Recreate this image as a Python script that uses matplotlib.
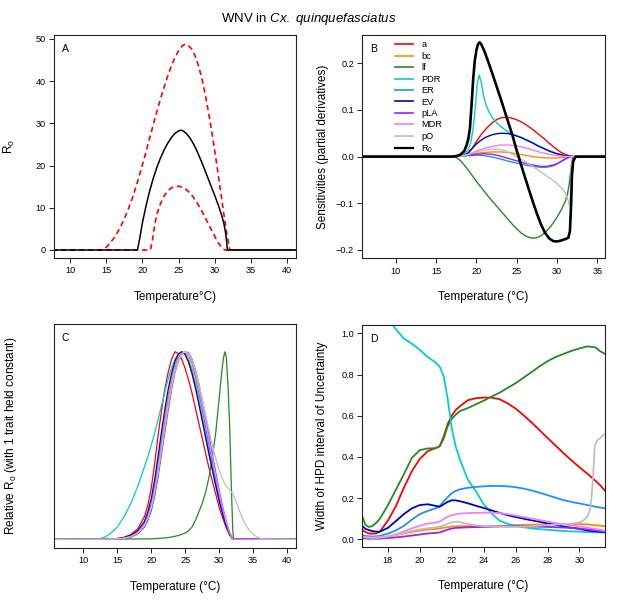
import matplotlib
matplotlib.use("Agg")
import matplotlib.pyplot as plt
from matplotlib.lines import Line2D

plt.rcParams['font.family'] = ['Liberation Sans', 'DejaVu Sans']
plt.rcParams['mathtext.fontset'] = 'custom'
plt.rcParams['mathtext.rm'] = 'Liberation Sans'
plt.rcParams['mathtext.it'] = 'Liberation Sans:italic'
plt.rcParams['mathtext.bf'] = 'Liberation Sans:bold'

# ---------------- Panel A: R0 with credible interval ----------------
A_med_T = [5, 19.3, 19.6, 20.0, 20.5, 21.0, 21.5, 22.0, 22.5, 23.0, 23.5, 24.0, 24.5, 25.0, 25.3,
           25.6, 26.0, 26.5, 27.0, 27.5, 28.0, 28.5, 29.0, 29.5, 30.0, 30.5, 31.0, 31.3, 31.5,
           31.65, 31.75, 45]
A_med_R0 = [0, 0, 2.5, 6.5, 10.5, 14.0, 17.0, 19.6, 21.8, 23.7, 25.3, 26.6, 27.6, 28.2, 28.35,
            28.2, 27.7, 26.7, 25.3, 23.6, 21.6, 19.5, 17.3, 15.1, 12.9, 10.6, 8.0, 6.0, 4.0,
            2.0, 0, 0]
A_up_T = [5, 14.5, 15.0, 15.5, 16.0, 16.5, 17.0, 17.5, 18.0, 18.5, 19.0, 19.5, 20.0, 20.5, 21.0,
          21.5, 22.0, 22.5, 23.0, 23.5, 24.0, 24.5, 25.0, 25.5, 25.9, 26.3, 26.8, 27.3, 27.8,
          28.3, 28.8, 29.3, 29.8, 30.3, 30.8, 31.3, 31.7, 32.1, 45]
A_up_R0 = [0, 0, 0.7, 1.6, 2.7, 4.0, 5.6, 7.4, 9.5, 11.8, 14.4, 17.2, 20.2, 23.3, 26.5,
           29.7, 32.8, 35.8, 38.6, 41.2, 43.6, 45.6, 47.2, 48.3, 48.7, 48.5, 47.6, 45.9, 43.4,
           40.0, 35.8, 31.0, 25.7, 20.0, 14.0, 8.0, 3.5, 0, 0]
A_lo_T = [5, 21.1, 21.4, 21.7, 22.0, 22.5, 23.0, 23.5, 24.0, 24.5, 25.0, 25.5, 26.0, 26.5, 27.0,
          27.5, 28.0, 28.5, 29.0, 29.5, 30.0, 30.5, 31.0, 31.4, 45]
A_lo_R0 = [0, 0, 2.5, 6.0, 8.5, 11.0, 12.8, 14.0, 14.7, 15.0, 15.1, 14.9, 14.4, 13.6, 12.6,
           11.3, 9.9, 8.3, 6.6, 4.9, 3.2, 1.7, 0.5, 0, 0]

# ---------------- Panel B: sensitivities ----------------
trait_names = ['a', 'bc', 'lf', 'PDR', 'ER', 'EV', 'pLA', 'MDR', 'pO']
trait_colors = ['#FF0000', '#FF8C00', '#228B22', '#00CED1', '#1E90FF', '#0000CD',
                '#A020F0', '#EE82EE', '#BEBEBE']

B_T = [5, 17.0, 17.5, 18.0, 18.5, 19.0, 19.5, 20.0, 20.5, 21.0, 21.5, 22.0, 22.5, 23.0, 23.5,
       24.0, 24.5, 25.0, 25.5, 26.0, 26.5, 27.0, 27.5, 28.0, 28.5, 29.0, 29.5, 30.0, 30.5,
       31.0, 31.5, 32.0, 37]
B_a = [0, 0, 0.0005, 0.001, 0.003, 0.008, 0.018, 0.032, 0.045, 0.056, 0.065, 0.073, 0.079, 0.083, 0.084,
       0.084, 0.082, 0.079, 0.075, 0.070, 0.064, 0.058, 0.051, 0.044, 0.037, 0.029, 0.022, 0.015, 0.009,
       0.005, 0.002, 0, 0]
B_bc = [0, 0, 0.0005, 0.001, 0.002, 0.004, 0.0055, 0.007, 0.008, 0.009, 0.0095, 0.010, 0.010, 0.010, 0.0095,
        0.009, 0.0075, 0.006, 0.0045, 0.003, 0.0015, 0.0, -0.001, -0.002, -0.0025, -0.003, -0.003, -0.003, -0.002,
        -0.001, 0, 0, 0]
B_EV = [0, 0, 0.0005, 0.001, 0.003, 0.008, 0.018, 0.027, 0.034, 0.040, 0.044, 0.047, 0.049, 0.050, 0.050,
        0.049, 0.047, 0.044, 0.041, 0.037, 0.033, 0.029, 0.024, 0.020, 0.016, 0.012, 0.009, 0.006, 0.004,
        0.002, 0.001, 0, 0]
B_ER = [0, 0, 0.0002, 0.0005, 0.001, 0.002, 0.0025, 0.003, 0.003, 0.002, 0.0005, -0.001, -0.003, -0.005, -0.0075,
        -0.010, -0.012, -0.014, -0.016, -0.018, -0.0195, -0.021, -0.022, -0.023, -0.023, -0.022, -0.020, -0.016, -0.011,
        -0.006, -0.002, 0, 0]
B_pLA = [0, 0, 0.0003, 0.001, 0.002, 0.003, 0.004, 0.005, 0.0055, 0.006, 0.0055, 0.005, 0.003, 0.001, -0.0015,
         -0.004, -0.0065, -0.009, -0.0115, -0.014, -0.016, -0.018, -0.0195, -0.021, -0.021, -0.020, -0.018, -0.015, -0.010,
         -0.005, -0.001, 0, 0]
B_MDR = [0, 0, 0.0003, 0.0005, 0.002, 0.004, 0.008, 0.012, 0.015, 0.018, 0.020, 0.022, 0.0235, 0.025, 0.025,
         0.025, 0.024, 0.023, 0.021, 0.019, 0.0165, 0.014, 0.0115, 0.009, 0.007, 0.005, 0.0035, 0.002, 0.001,
         0.0005, 0, 0, 0]
B_pO_T = [5, 17.0, 18.0, 19.0, 20.0, 21.0, 22.0, 22.5, 23.0, 23.5, 24.0, 24.5, 25.0, 25.5, 26.0,
          26.5, 27.0, 27.5, 28.0, 28.5, 29.0, 29.5, 30.0, 30.5, 31.0, 31.3, 31.6, 31.7, 31.8, 37]
B_pO = [0, 0, 0.001, 0.005, 0.010, 0.014, 0.016, 0.016, 0.015, 0.013, 0.009, 0.005, 0.0, -0.005, -0.010,
        -0.016, -0.021, -0.027, -0.033, -0.039, -0.045, -0.051, -0.058, -0.066, -0.077, -0.090, -0.107, -0.05, 0, 0]
B_lf_T = [5, 17.0, 17.5, 18.0, 18.5, 19.0, 19.5, 20.0, 20.5, 21.0, 21.5, 22.0, 22.5, 23.0, 23.5,
          24.0, 24.5, 25.0, 25.5, 26.0, 26.5, 27.0, 27.5, 28.0, 28.5, 29.0, 29.5, 30.0, 30.5,
          31.0, 31.3, 31.5, 31.7, 31.9, 32.1, 37]
B_lf = [0, 0, -0.002, -0.008, -0.018, -0.029, -0.041, -0.053, -0.064, -0.075, -0.086, -0.096, -0.106, -0.116, -0.126,
        -0.136, -0.146, -0.155, -0.163, -0.169, -0.173, -0.175, -0.174, -0.170, -0.163, -0.154, -0.143, -0.130, -0.115,
        -0.097, -0.080, -0.060, -0.030, -0.005, 0, 0]
B_PDR_T = [5, 17.0, 17.5, 18.0, 18.5, 19.0, 19.3, 19.6, 19.9, 20.1, 20.35, 20.6, 20.9, 21.2, 21.6,
           22.0, 22.5, 23.0, 23.5, 24.0, 24.5, 25.0, 25.5, 26.0, 26.5, 27.0, 27.5, 28.0, 28.5,
           29.0, 29.5, 30.0, 30.5, 31.0, 31.5, 32.0, 37]
B_PDR = [0, 0, 0.001, 0.003, 0.006, 0.015, 0.030, 0.060, 0.110, 0.155, 0.175, 0.160, 0.130, 0.110, 0.095,
         0.083, 0.073, 0.065, 0.058, 0.052, 0.048, 0.045, 0.042, 0.038, 0.034, 0.030, 0.025, 0.021, 0.017,
         0.013, 0.0095, 0.0065, 0.0045, 0.0025, 0.001, 0, 0]
B_R0_T = [5, 17.0, 17.5, 18.0, 18.5, 18.8, 19.0, 19.2, 19.4, 19.6, 19.8, 20.0, 20.2, 20.4, 20.6,
          21.0, 21.5, 22.0, 22.5, 23.0, 23.5, 24.0, 24.5, 25.0, 25.5, 26.0, 26.5, 27.0, 27.5,
          28.0, 28.5, 29.0, 29.5, 30.0, 30.5, 31.0, 31.4, 31.6, 31.75, 31.85, 32.0, 32.3, 37]
B_R0 = [0, 0, 0.001, 0.004, 0.012, 0.025, 0.038, 0.060, 0.110, 0.165, 0.205, 0.228, 0.241, 0.245, 0.241,
        0.226, 0.202, 0.177, 0.151, 0.125, 0.098, 0.071, 0.044, 0.013, -0.015, -0.043, -0.070, -0.097, -0.122,
        -0.145, -0.163, -0.175, -0.181, -0.182, -0.180, -0.177, -0.174, -0.160, -0.100, -0.040, -0.010, 0, 0]

# ---------------- Panel C: relative R0 with one trait constant ----------------
C_T = [5, 12, 13, 14, 15, 16, 17, 18, 19, 19.5, 20, 20.5, 21, 21.5, 22, 22.5, 23, 23.5, 24,
       24.5, 25, 25.5, 26, 26.5, 27, 27.5, 28, 28.5, 29, 29.5, 30, 30.5, 31, 31.5, 32,
       32.5, 33, 33.5, 34, 34.5, 35, 35.5, 36, 36.5, 42]
C_a = [0, 0, 0, 0.001, 0.004, 0.011, 0.025, 0.055, 0.12, 0.18, 0.27, 0.40, 0.55, 0.68, 0.80, 0.89, 0.96, 1.0, 0.99,
       0.96, 0.91, 0.85, 0.78, 0.70, 0.62, 0.54, 0.46, 0.38, 0.31, 0.24, 0.17, 0.115, 0.065, 0.025, 0,
       0, 0, 0, 0, 0, 0, 0, 0, 0, 0]
C_bc = [0, 0, 0, 0.001, 0.002, 0.007, 0.017, 0.04, 0.085, 0.13, 0.19, 0.29, 0.41, 0.54, 0.66, 0.77, 0.86, 0.93, 0.975,
        0.997, 0.995, 0.965, 0.91, 0.835, 0.75, 0.66, 0.57, 0.48, 0.39, 0.305, 0.225, 0.15, 0.085, 0.035, 0,
        0, 0, 0, 0, 0, 0, 0, 0, 0, 0]
C_PDR = [0, 0, 0.008, 0.03, 0.065, 0.12, 0.19, 0.28, 0.385, 0.44, 0.50, 0.565, 0.635, 0.71, 0.785, 0.855, 0.915, 0.96, 0.99,
         1.0, 0.985, 0.945, 0.885, 0.81, 0.725, 0.635, 0.545, 0.455, 0.37, 0.285, 0.205, 0.135, 0.075, 0.03, 0,
         0, 0, 0, 0, 0, 0, 0, 0, 0, 0]
C_ER = [0, 0, 0, 0.001, 0.002, 0.006, 0.015, 0.036, 0.078, 0.12, 0.18, 0.27, 0.38, 0.50, 0.62, 0.735, 0.83, 0.91, 0.96,
        0.99, 1.0, 0.985, 0.94, 0.87, 0.785, 0.695, 0.60, 0.505, 0.41, 0.32, 0.235, 0.155, 0.088, 0.035, 0,
        0, 0, 0, 0, 0, 0, 0, 0, 0, 0]
C_EV = [0, 0, 0, 0.001, 0.003, 0.008, 0.02, 0.045, 0.095, 0.145, 0.215, 0.315, 0.44, 0.57, 0.69, 0.80, 0.885, 0.95, 0.988,
        1.0, 0.985, 0.945, 0.885, 0.81, 0.725, 0.635, 0.545, 0.455, 0.37, 0.285, 0.205, 0.135, 0.075, 0.03, 0,
        0, 0, 0, 0, 0, 0, 0, 0, 0, 0]
C_pLA = [0, 0, 0, 0.0005, 0.001, 0.004, 0.011, 0.028, 0.065, 0.10, 0.15, 0.23, 0.33, 0.45, 0.57, 0.69, 0.80, 0.89, 0.95,
         0.985, 1.0, 0.995, 0.96, 0.905, 0.83, 0.745, 0.65, 0.55, 0.45, 0.355, 0.26, 0.175, 0.10, 0.04, 0,
         0, 0, 0, 0, 0, 0, 0, 0, 0, 0]
C_MDR = [0, 0, 0, 0.0008, 0.0015, 0.005, 0.013, 0.032, 0.072, 0.11, 0.165, 0.25, 0.355, 0.475, 0.595, 0.715, 0.815, 0.90, 0.955,
         0.99, 1.0, 0.99, 0.95, 0.89, 0.81, 0.725, 0.63, 0.53, 0.435, 0.34, 0.25, 0.168, 0.095, 0.038, 0,
         0, 0, 0, 0, 0, 0, 0, 0, 0, 0]
C_pO = [0, 0, 0, 0.0008, 0.002, 0.006, 0.015, 0.035, 0.075, 0.115, 0.17, 0.255, 0.36, 0.48, 0.60, 0.72, 0.82, 0.90, 0.955,
        0.99, 1.0, 0.99, 0.955, 0.90, 0.83, 0.75, 0.665, 0.58, 0.50, 0.43, 0.37, 0.32, 0.285, 0.265, 0.245,
        0.20, 0.15, 0.105, 0.07, 0.045, 0.026, 0.013, 0.005, 0.001, 0]
C_lf_T = [5, 20, 22, 23, 24, 25, 25.5, 26, 26.5, 27, 27.5, 28, 28.5, 29, 29.5, 30, 30.4, 30.65,
          30.85, 31.05, 31.3, 31.55, 31.8, 32.0, 32.1, 42]
C_lf = [0, 0.002, 0.007, 0.012, 0.02, 0.033, 0.045, 0.065, 0.10, 0.145, 0.19, 0.25, 0.33, 0.44, 0.57, 0.75, 0.90, 0.97,
        1.0, 0.97, 0.82, 0.60, 0.27, 0.05, 0, 0]

# ---------------- Panel D: width of HPD interval ----------------
D_T = [16.4, 16.6, 16.8, 17.0, 17.25, 17.5, 18.0, 18.5, 19.0, 19.5, 20.0, 20.5, 21.0, 21.25, 21.5,
       21.75, 22.0, 22.25, 22.5, 23.0, 23.5, 24.0, 24.5, 25.0, 25.5, 26.0, 26.5, 27.0, 27.5,
       28.0, 28.5, 29.0, 29.5, 30.0, 30.5, 31.0, 31.3, 31.6]
D_a = [0.045, 0.035, 0.028, 0.027, 0.028, 0.037, 0.09, 0.16, 0.25, 0.33, 0.39, 0.428, 0.443, 0.452, 0.50,
       0.56, 0.60, 0.628, 0.645, 0.675, 0.685, 0.688, 0.688, 0.680, 0.660, 0.635, 0.602, 0.567, 0.53,
       0.492, 0.455, 0.418, 0.383, 0.35, 0.318, 0.284, 0.262, 0.236]
D_bc = [0.008, 0.006, 0.005, 0.005, 0.006, 0.007, 0.012, 0.02, 0.028, 0.036, 0.042, 0.047, 0.050, 0.053, 0.056,
        0.059, 0.062, 0.063, 0.063, 0.064, 0.064, 0.064, 0.064, 0.065, 0.066, 0.068, 0.07, 0.071, 0.072,
        0.073, 0.074, 0.074, 0.074, 0.074, 0.072, 0.068, 0.066, 0.063]
D_lf = [0.11, 0.07, 0.06, 0.063, 0.078, 0.1, 0.165, 0.24, 0.315, 0.395, 0.433, 0.441, 0.442, 0.452, 0.49,
        0.55, 0.585, 0.605, 0.622, 0.637, 0.655, 0.673, 0.693, 0.712, 0.735, 0.758, 0.785, 0.812, 0.84,
        0.865, 0.885, 0.90, 0.915, 0.927, 0.937, 0.932, 0.913, 0.90]
D_PDR = [1.28, 1.24, 1.20, 1.17, 1.14, 1.12, 1.08, 1.02, 0.975, 0.95, 0.92, 0.885, 0.858, 0.838, 0.79,
         0.68, 0.54, 0.45, 0.39, 0.29, 0.235, 0.17, 0.125, 0.09, 0.075, 0.065, 0.058, 0.053, 0.049,
         0.046, 0.043, 0.04, 0.038, 0.037, 0.035, 0.034, 0.033, 0.032]
D_ER = [0.02, 0.016, 0.014, 0.013, 0.014, 0.016, 0.027, 0.043, 0.065, 0.095, 0.122, 0.138, 0.15, 0.16, 0.185,
        0.205, 0.224, 0.235, 0.242, 0.25, 0.254, 0.257, 0.259, 0.259, 0.257, 0.253, 0.246, 0.237, 0.226,
        0.214, 0.202, 0.19, 0.181, 0.174, 0.166, 0.158, 0.154, 0.15]
D_EV = [0.065, 0.05, 0.045, 0.04, 0.037, 0.037, 0.055, 0.088, 0.122, 0.15, 0.166, 0.17, 0.162, 0.158, 0.17,
        0.182, 0.189, 0.189, 0.185, 0.175, 0.163, 0.152, 0.14, 0.128, 0.117, 0.108, 0.1, 0.092, 0.085,
        0.077, 0.07, 0.062, 0.056, 0.05, 0.043, 0.038, 0.036, 0.034]
D_pLA = [0.004, 0.004, 0.003, 0.003, 0.003, 0.003, 0.006, 0.009, 0.013, 0.018, 0.023, 0.028, 0.031, 0.033, 0.04,
         0.047, 0.052, 0.055, 0.056, 0.058, 0.059, 0.06, 0.061, 0.062, 0.0625, 0.063, 0.0625, 0.062, 0.061,
         0.06, 0.0585, 0.057, 0.055, 0.052, 0.048, 0.043, 0.04, 0.036]
D_MDR = [0.012, 0.01, 0.008, 0.007, 0.007, 0.007, 0.012, 0.024, 0.038, 0.053, 0.066, 0.076, 0.081, 0.086, 0.098,
         0.11, 0.116, 0.121, 0.124, 0.127, 0.128, 0.129, 0.129, 0.127, 0.122, 0.115, 0.108, 0.1, 0.093,
         0.086, 0.079, 0.073, 0.068, 0.062, 0.056, 0.05, 0.046, 0.041]
D_pO_T = [16.4, 16.8, 17.0, 17.5, 18.0, 18.5, 19.0, 19.5, 20.0, 20.5, 21.0, 21.25, 21.5, 21.8, 22.1,
          22.35, 22.6, 23.0, 23.5, 24.0, 24.5, 25.0, 25.5, 26.0, 26.5, 27.0, 27.5, 28.0, 28.5,
          29.0, 29.5, 29.8, 30.1, 30.3, 30.5, 30.65, 30.75, 30.85, 30.95, 31.1, 31.3, 31.45, 31.6]
D_pO = [0.01, 0.009, 0.008, 0.01, 0.015, 0.022, 0.031, 0.04, 0.048, 0.053, 0.058, 0.061, 0.068, 0.077, 0.084,
        0.085, 0.082, 0.075, 0.068, 0.064, 0.063, 0.062, 0.061, 0.06, 0.061, 0.063, 0.066, 0.069, 0.071,
        0.073, 0.076, 0.079, 0.084, 0.095, 0.11, 0.14, 0.20, 0.30, 0.45, 0.48, 0.49, 0.505, 0.51]

# ---------------- Figure ----------------
fig = plt.figure(figsize=(6.17, 6.02), dpi=100)
TICK_FS = 6.6
LAB_FS = 8.5

def style(ax, letter):
    for s in ax.spines.values():
        s.set_linewidth(0.8)
        s.set_color('#222222')
    ax.tick_params(direction='out', length=3.5, width=0.7, labelsize=TICK_FS, pad=2.5,
                   color='#222222')
    ax.text(0.048, 0.937, letter, transform=ax.transAxes, ha='center', va='center', fontsize=7.5)

def labels(ax, xl, yl, ylx):
    ax.set_xlabel(xl, fontsize=LAB_FS)
    ax.set_ylabel(yl, fontsize=LAB_FS)
    ax.xaxis.set_label_coords(0.5, -0.175)
    ax.xaxis.label.set_va('center')
    ax.yaxis.set_label_coords(ylx, 0.5)
    ax.yaxis.label.set_va('center')

# Panel A
axA = fig.add_axes([0.0875, 0.5714, 0.3922, 0.3705])
axA.plot(A_up_T, A_up_R0, color='#FF0000', lw=1.2, dashes=(3.2, 2.2))
axA.plot(A_lo_T, A_lo_R0, color='#FF0000', lw=1.2, dashes=(3.2, 2.2))
axA.plot(A_med_T, A_med_R0, color='black', lw=1.1)
axA.set_xlim(7.76, 41.24)
axA.set_ylim(-1.9, 50.9)
axA.set_xticks([10, 15, 20, 25, 30, 35, 40])
axA.set_yticks([0, 10, 20, 30, 40, 50])
style(axA, 'A')
labels(axA, 'Temperature°C)', r'R$_0$', -0.182)

# Panel B
axB = fig.add_axes([0.5872, 0.571, 0.3934, 0.371])
B_series = [(B_T, B_a), (B_T, B_bc), (B_lf_T, B_lf), (B_PDR_T, B_PDR), (B_T, B_ER),
            (B_T, B_EV), (B_T, B_pLA), (B_T, B_MDR), (B_pO_T, B_pO)]
for (xs, ys), c in zip(B_series, trait_colors):
    axB.plot(xs, ys, color=c, lw=1.0)
axB.plot(B_R0_T, B_R0, color='black', lw=1.9)
axB.set_xlim(5.86, 35.95)
axB.set_ylim(-0.218, 0.261)
axB.set_xticks([10, 15, 20, 25, 30, 35])
axB.set_yticks([-0.2, -0.1, 0.0, 0.1, 0.2])
axB.set_yticklabels(['\u22120.2', '\u22120.1', '0.0', '0.1', '0.2'])
style(axB, 'B')
labels(axB, 'Temperature (°C)', 'Sensitivities (partial derivatives)', -0.162)
handles = [Line2D([], [], color=c, lw=1.2) for c in trait_colors]
handles.append(Line2D([], [], color='black', lw=1.6))
axB.legend(handles, trait_names + [r'R$_0$'], loc='upper left', bbox_to_anchor=(0.136, 0.975),
           frameon=False, fontsize=6.7, handlelength=1.95, handletextpad=0.85,
           labelspacing=0.26, borderpad=0, borderaxespad=0)

# Panel C
axC = fig.add_axes([0.0875, 0.0902, 0.3922, 0.371])
C_series = [(C_T, C_a), (C_T, C_bc), (C_lf_T, C_lf), (C_T, C_PDR), (C_T, C_ER),
            (C_T, C_EV), (C_T, C_pLA), (C_T, C_MDR), (C_T, C_pO)]
for (xs, ys), c in zip(C_series, trait_colors):
    axC.plot(xs, ys, color=c, lw=0.9)
axC.set_xlim(5.7, 41.3)
axC.set_ylim(-0.045, 1.146)
axC.set_xticks([10, 15, 20, 25, 30, 35, 40])
axC.set_yticks([])
style(axC, 'C')
labels(axC, 'Temperature (°C)', r'Relative R$_0$ (with 1 trait held constant)', -0.178)

# Panel D
axD = fig.add_axes([0.5872, 0.0909, 0.3934, 0.369])
D_series = [(D_T, D_a), (D_T, D_bc), (D_T, D_lf), (D_T, D_PDR), (D_T, D_ER),
            (D_T, D_EV), (D_T, D_pLA), (D_T, D_MDR), (D_pO_T, D_pO)]
for (xs, ys), c in zip(D_series, trait_colors):
    axD.plot(xs, ys, color=c, lw=1.3)
axD.set_xlim(16.4, 31.6)
axD.set_ylim(-0.039, 1.04)
axD.set_xticks([18, 20, 22, 24, 26, 28, 30])
axD.set_yticks([0.0, 0.2, 0.4, 0.6, 0.8, 1.0])
axD.set_yticklabels(['0.0', '0.2', '0.4', '0.6', '0.8', '1.0'])
style(axD, 'D')
labels(axD, 'Temperature (°C)', 'Width of HPD interval of Uncertainty', -0.166)

fig.text(0.5, 0.968, r'WNV in $\mathit{Cx.\ quinquefasciatus}$', ha='center', va='center', fontsize=9.5)

fig.savefig('out.png', dpi=100)
